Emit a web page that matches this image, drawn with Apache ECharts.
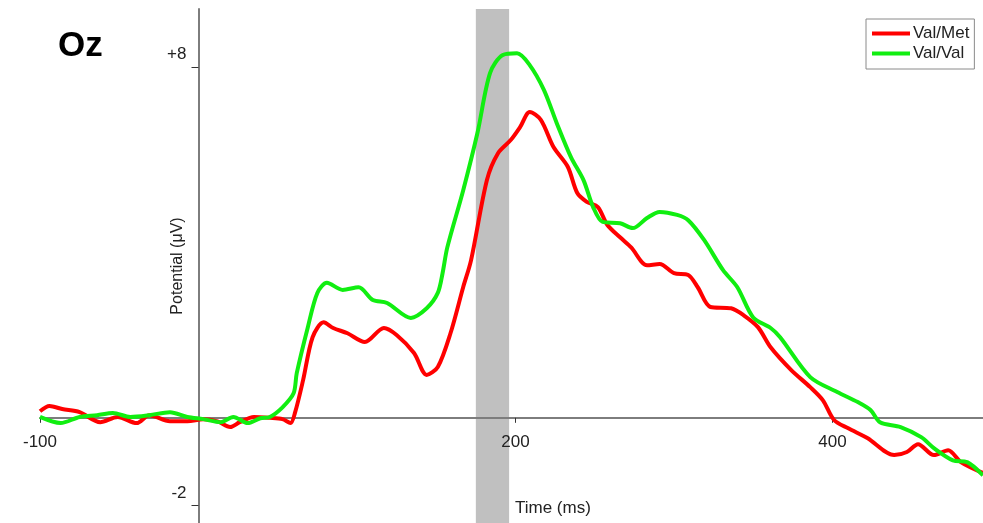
<!DOCTYPE html>
<html>
<head>
<meta charset="utf-8">
<script src="https://cdn.jsdelivr.net/npm/echarts@6/dist/echarts.min.js"></script>
<style>
  html, body { margin: 0; padding: 0; background: #fff; }
  #chart { width: 983px; height: 523px; }
</style>
</head>
<body>
<div id="chart"></div>
<script>
// Val/Met (red) - time in ms, potential in uV
const metTime = [-100, -94, -86, -75, -62, -51, -39, -31, -18, -7, 3, 12, 20, 26, 35, 45, 53, 58, 61, 66, 72, 79, 85, 94, 105, 117, 125, 136, 144, 151, 159, 167, 172, 182, 189, 197, 203, 209, 216, 224, 233, 239, 245, 252, 258, 266, 273, 283, 291, 300, 309, 315, 323, 336, 344, 353, 361, 374, 386, 394, 401, 410, 422, 439, 447, 454, 464, 473, 481, 495]
const metValue = [0.15, 0.27, 0.20, 0.13, -0.10, 0.02, -0.12, 0.06, -0.08, -0.08, -0.03, -0.08, -0.21, -0.10, 0.02, 0.00, -0.03, -0.12, 0.13, 0.86, 1.84, 2.18, 2.05, 1.93, 1.73, 2.05, 1.89, 1.48, 0.98, 1.16, 1.93, 2.98, 3.60, 5.43, 6.04, 6.34, 6.64, 6.98, 6.80, 6.18, 5.73, 5.13, 4.93, 4.81, 4.40, 4.12, 3.89, 3.48, 3.51, 3.30, 3.26, 2.98, 2.53, 2.50, 2.34, 2.07, 1.61, 1.09, 0.70, 0.40, -0.05, -0.24, -0.46, -0.85, -0.78, -0.60, -0.85, -0.74, -1.01, -1.26]

// Val/Val (green)
const valTime = [-100, -87, -75, -64, -54, -43, -31, -18, -7, 3, 14, 22, 31, 39, 45, 53, 60, 62, 69, 75, 81, 91, 101, 110, 119, 134, 144, 151, 154, 157, 167, 176, 184, 192, 201, 209, 218, 226, 235, 243, 249, 255, 266, 274, 283, 291, 302, 309, 319, 331, 340, 350, 361, 367, 386, 403, 416, 424, 430, 443, 456, 464, 476, 485, 495]
const valValue = [0.02, -0.12, 0.02, 0.06, 0.11, 0.02, 0.06, 0.13, 0.02, -0.03, -0.10, 0.02, -0.12, -0.01, 0.02, 0.24, 0.56, 1.02, 2.07, 2.85, 3.08, 2.92, 2.98, 2.69, 2.62, 2.28, 2.50, 2.85, 3.30, 3.89, 5.19, 6.50, 7.87, 8.28, 8.32, 8.05, 7.48, 6.73, 5.95, 5.42, 4.81, 4.47, 4.44, 4.33, 4.56, 4.70, 4.63, 4.51, 4.06, 3.37, 2.98, 2.29, 2.05, 1.84, 0.93, 0.59, 0.36, 0.18, -0.10, -0.21, -0.44, -0.69, -0.97, -1.01, -1.31]

// shaded window (ms)
const bandRange = [175, 196]
const xTicks = [-100, 200, 400]
const yTicks = [-2, 8]

const metData = metTime.map((t, i) => [t, metValue[i]])
const valData = valTime.map((t, i) => [t, valValue[i]])

const myChart = echarts.init(document.getElementById('chart'))
const fontFamily = 'Liberation Sans, Arial, sans-serif'
const option = {
  animation: false,
  textStyle: { fontFamily: fontFamily },
  grid: { left: 40, right: 0, top: 9, bottom: 0, containLabel: false, outerBoundsMode: 'none' },
  legend: {
    orient: 'vertical',
    left: 866,
    top: 19,
    padding: [6, 5, 7, 6],
    itemGap: 3,
    itemWidth: 38,
    itemHeight: 4,
    icon: 'rect',
    borderColor: '#8a8a8a',
    borderWidth: 1,
    backgroundColor: '#fff',
    textStyle: { fontSize: 17, color: '#222', fontFamily: fontFamily, padding: [0, 0, 0, -2] },
    data: ['Val/Met', 'Val/Val']
  },
  xAxis: {
    type: 'value',
    min: -100,
    max: 495,
    z: 3,
    position: 'bottom',
    offset: -105.2,
    splitLine: { show: false },
    axisLine: { onZero: false, lineStyle: { color: '#7d7d7d', width: 2 } },
    axisTick: { customValues: xTicks, length: 5, lineStyle: { color: '#333' } },
    axisLabel: { customValues: xTicks, fontSize: 17, color: '#222', margin: 16 }
  },
  yAxis: {
    type: 'value',
    min: -2.4,
    max: 9.33,
    z: 3,
    position: 'left',
    offset: -158.5,
    splitLine: { show: false },
    axisLine: { onZero: false, lineStyle: { color: '#7d7d7d', width: 2 } },
    axisTick: { customValues: yTicks, length: 7, lineStyle: { color: '#333' } },
    axisLabel: {
      customValues: yTicks,
      fontSize: 17,
      color: '#222',
      margin: 12,
      verticalAlign: 'bottom',
      padding: [0, 0, 4, 0],
      formatter: v => (v > 0 ? '+' + v : '' + v)
    },
    name: 'Potential (\u03bcV)',
    nameLocation: 'middle',
    nameGap: 13,
    nameMoveOverlap: false,
    nameTextStyle: { fontSize: 16, color: '#222' }
  },
  graphic: [
    { type: 'text', left: 58, top: 29, style: { text: 'Oz', font: 'bold 35px ' + fontFamily, fill: '#000' } },
    { type: 'text', left: 515, top: 500, style: { text: 'Time (ms)', font: '17px ' + fontFamily, fill: '#222' } }
  ],
  series: [
    {
      name: 'band',
      type: 'line',
      data: [],
      z: 1,
      markArea: {
        silent: true,
        itemStyle: { color: '#c0c0c0' },
        data: [[{ xAxis: bandRange[0] }, { xAxis: bandRange[1] }]]
      }
    },
    {
      name: 'Val/Met',
      type: 'line',
      data: metData,
      z: 4,
      smooth: 0.3,
      showSymbol: false,
      itemStyle: { color: '#ff0000' },
      lineStyle: { color: '#ff0000', width: 4 }
    },
    {
      name: 'Val/Val',
      type: 'line',
      data: valData,
      z: 5,
      smooth: 0.3,
      showSymbol: false,
      itemStyle: { color: '#11ee11' },
      lineStyle: { color: '#11ee11', width: 4 }
    }
  ]
}
myChart.setOption(option)
</script>
</body>
</html>
